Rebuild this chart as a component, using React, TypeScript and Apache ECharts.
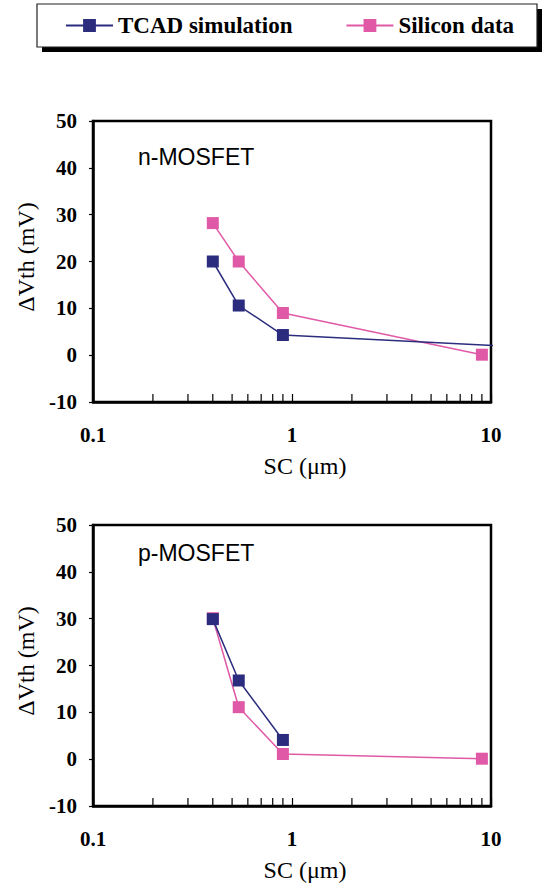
import React, { useEffect, useRef } from "react";
import * as echarts from "echarts";

const SERIES_NAMES = ["TCAD simulation", "Silicon data"];
const PANEL_LABELS = ["n-MOSFET", "p-MOSFET"];

// n-MOSFET panel: [SC (µm), ΔVth (mV)]
const nTcad: number[][] = [[0.4, 20.0], [0.54, 10.6], [0.9, 4.3], [10.8, 2.0]];
const nSilicon: number[][] = [[0.4, 28.2], [0.54, 20.0], [0.9, 9.0], [9, 0.1]];
// p-MOSFET panel
const pTcad: number[][] = [[0.4, 29.9], [0.54, 16.8], [0.9, 4.1]];
const pSilicon: number[][] = [[0.4, 30.1], [0.54, 11.1], [0.9, 1.1], [9, 0.1]];

const X_MIN = 0.1;
const X_MAX = 10;
const Y_MIN = -10;
const Y_MAX = 50;
const Y_STEP = 10;
const MINOR_TICKS = [0.2, 0.3, 0.4, 0.5, 0.6, 0.7, 0.8, 0.9, 2, 3, 4, 5, 6, 7, 8, 9];

const BLUE = "#2B2C7E";
const PINK = "#E059A6";
const SERIF = "'Liberation Serif', 'Times New Roman', serif";
const SANS = "'Liberation Sans', Arial, sans-serif";

export default function App() {
  const ref = useRef<HTMLDivElement>(null);
  useEffect(() => {
    if (!ref.current) return;
    const chart = echarts.init(ref.current, undefined, { renderer: "svg" });
    const grids = [
      { left: 93, top: 121, width: 398, height: 281 },
      { left: 93, top: 525, width: 398, height: 281 },
    ];
    const xAxes = grids.map((_, i) => ({
      type: "log",
      logBase: 10,
      gridIndex: i,
      min: X_MIN,
      max: X_MAX,
      name: "SC (μm)",
      nameLocation: "middle",
      nameGap: 52,
      nameTextStyle: { fontFamily: SERIF, fontSize: 24, color: "#000", padding: [0, 0, 0, 26] },
      axisLine: { show: true, onZero: false, lineStyle: { color: "#000", width: 2.5 } },
      axisTick: { show: true, inside: true, length: 8, lineStyle: { color: "#000", width: 1.2 } },
      minorTick: { show: false },
      splitLine: { show: false },
      axisLabel: {
        margin: 22,
        fontFamily: SERIF,
        fontWeight: "bold",
        fontSize: 21,
        color: "#000",
        formatter: (v: number) => (v < 1 ? v.toFixed(1) : v.toFixed(0)),
      },
    }));
    const yAxes = grids.map((_, i) => ({
      type: "value",
      gridIndex: i,
      min: Y_MIN,
      max: Y_MAX,
      interval: Y_STEP,
      name: "ΔVth (mV)",
      nameLocation: "middle",
      nameGap: 52,
      nameTextStyle: { fontFamily: SERIF, fontSize: 24, color: "#000", padding: [0, 0, 0, 9] },
      axisLine: { show: true, onZero: false, lineStyle: { color: "#000", width: 2.5 } },
      axisTick: { show: true, inside: false, length: 4, lineStyle: { color: "#000", width: 1.2 } },
      splitLine: { show: false },
      axisLabel: {
        margin: 16,
        fontFamily: SERIF,
        fontWeight: "bold",
        fontSize: 21,
        color: "#000",
      },
    }));

    const lineSeries = (name: string, data: number[][], color: string, idx: number, z: number) => ({
      type: "line",
      name,
      xAxisIndex: idx,
      yAxisIndex: idx,
      clip: false,
      z,
      data: data.map((d) =>
        d[0] > X_MAX ? { value: d, symbol: "none" } : { value: d }
      ),
      symbol: "rect",
      symbolSize: 12,
      itemStyle: { color },
      lineStyle: { color, width: 1.5 },
    });

    const minorSeries = (idx: number) => ({
      type: "custom",
      xAxisIndex: idx,
      yAxisIndex: idx,
      silent: true,
      z: 1,
      data: MINOR_TICKS.map((v) => [v, Y_MIN]),
      renderItem: (_p: any, api: any) => {
        const pt = api.coord([api.value(0), api.value(1)]);
        return {
          type: "line",
          shape: { x1: pt[0], y1: pt[1], x2: pt[0], y2: pt[1] - 8 },
          style: { stroke: "#000", lineWidth: 1.2 },
        };
      },
    });

    chart.setOption({
      animation: false,
      backgroundColor: "#fff",
      grid: grids.map((g) => ({ ...g, show: true, borderColor: "#000", borderWidth: 2.5, backgroundColor: "transparent" })),
      xAxis: xAxes,
      yAxis: yAxes,
      legend: {
        data: SERIES_NAMES,
        orient: "horizontal",
        left: 65,
        top: 14,
        width: 470,
        padding: 0,
        z: 10,
        itemWidth: 47,
        itemHeight: 16,
        itemGap: 53,
        itemTextGap: 6,
        textStyle: { fontFamily: SERIF, fontWeight: "bold", fontSize: 23, color: "#000" },
      },
      graphic: [
        { type: "rect", z: 1, shape: { x: 42, y: 9, width: 500, height: 43 }, style: { fill: "#000" } },
        { type: "rect", z: 2, shape: { x: 37, y: 4, width: 500, height: 43 }, style: { fill: "#fff", stroke: "#222", lineWidth: 1.2 } },
        { type: "text", z: 5, x: 138, y: 157, style: { text: PANEL_LABELS[0], font: `23px ${SANS}`, fill: "#000", verticalAlign: "middle" } },
        { type: "text", z: 5, x: 138, y: 553, style: { text: PANEL_LABELS[1], font: `23px ${SANS}`, fill: "#000", verticalAlign: "middle" } },
      ],
      series: [
        lineSeries(SERIES_NAMES[1], nSilicon, PINK, 0, 2),
        lineSeries(SERIES_NAMES[0], nTcad, BLUE, 0, 3),
        lineSeries(SERIES_NAMES[1], pSilicon, PINK, 1, 2),
        lineSeries(SERIES_NAMES[0], pTcad, BLUE, 1, 3),
        minorSeries(0),
        minorSeries(1),
      ],
    });
    return () => chart.dispose();
  }, []);
  return (
    <div
      ref={ref}
      style={{ position: "absolute", left: 0, top: 0, width: 543, height: 886, background: "#fff" }}
    />
  );
}
